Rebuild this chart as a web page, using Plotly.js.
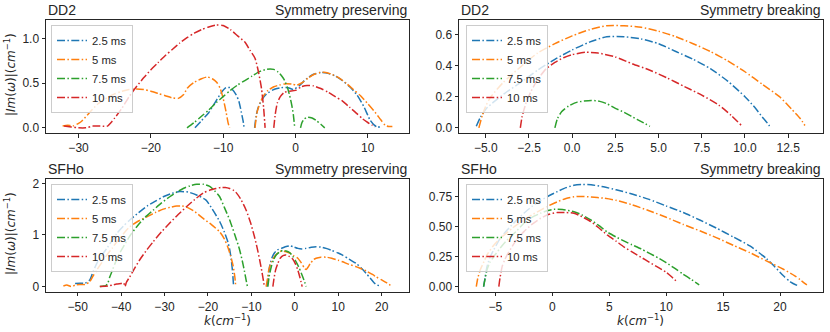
<!DOCTYPE html>
<html>
<head>
<meta charset="utf-8">
<script src="https://cdn.plot.ly/plotly-3.0.1.min.js"></script>
<style>
  body { margin: 0; background: #fff; }
  #chart { width: 830px; height: 332px; }
</style>
</head>
<body>
<div id="chart"></div>
<script>
// series labels
var seriesNames = ['2.5 ms', '5 ms', '7.5 ms', '10 ms'];
var seriesColors = ['#1f77b4', '#ff7f0e', '#2ca02c', '#d62728'];

// ---- DD2, symmetry preserving (null = gap between branches) ----
var dd2PresK25 = [-13.9, -13, -12, -11, -10.2, -9.6, -9, -8.2, -7.8, -7.5, -7.25, -7.1, null,
  -5.65, -5.4, -5.1, -4.6, -4, -3, -2, -1, -0.3, 0.5, 1.5, 2.5, 3.5, 4.5, 5.5, 6.5, 7.5, 8.5, 9.5, 10.3, 10.9, 11.3, 11.7];
var dd2PresV25 = [0, 0.08, 0.17, 0.3, 0.4, 0.45, 0.45, 0.37, 0.29, 0.18, 0.08, 0, null,
  0, 0.15, 0.24, 0.32, 0.38, 0.43, 0.45, 0.45, 0.43, 0.47, 0.55, 0.6, 0.62, 0.61, 0.58, 0.53, 0.46, 0.37, 0.23, 0.09, 0.03, 0.01, 0.01];
var dd2PresK5 = [-32.2, -31.5, -30.8, -30, -29.5, -28.5, -27.3, -26, -25, -24, -23, -22, -21, -20, -19, -18, -17, -16.2, -15.5, -14.9, -14, -13, -12.2, -11.5, -10.9, -10.4, -10, -9.6, -9.3, -9.1, null,
  -5.6, -5.3, -4.9, -4.4, -3.8, -3, -2.2, -1.3, -0.5, 0.2, 1, 1.8, 2.6, 3.4, 4.2, 5, 6, 7, 8, 9, 10, 11, 11.8, 12.4, 12.9, 13.4];
var dd2PresV5 = [0.02, 0.03, 0.02, 0.05, 0.08, 0.17, 0.27, 0.34, 0.38, 0.41, 0.43, 0.435, 0.43, 0.41, 0.385, 0.36, 0.335, 0.33, 0.37, 0.45, 0.51, 0.55, 0.57, 0.55, 0.51, 0.44, 0.33, 0.18, 0.05, 0, null,
  0, 0.18, 0.28, 0.36, 0.42, 0.46, 0.48, 0.495, 0.49, 0.48, 0.51, 0.56, 0.6, 0.62, 0.62, 0.6, 0.56, 0.5, 0.43, 0.36, 0.27, 0.175, 0.09, 0.03, 0.015, 0.015];
var dd2PresK75 = [-15, -14, -13, -12, -11, -10, -9, -8, -7, -6, -5, -4, -3.5, -3, -2.4, -1.9, -1.5, -1.1, -0.8, -0.5, -0.3, -0.1, null,
  0.7, 0.9, 1.2, 1.7, 2.3, 2.9, 3.5, 4.05];
var dd2PresV75 = [0, 0.06, 0.13, 0.2, 0.28, 0.35, 0.42, 0.48, 0.53, 0.58, 0.63, 0.655, 0.66, 0.655, 0.625, 0.58, 0.53, 0.45, 0.36, 0.25, 0.15, 0, null,
  0, 0.06, 0.1, 0.12, 0.11, 0.08, 0.04, 0];
var dd2PresK10 = [-32, -31, -30, -29, -28, -27, -26, -25.5, -25, -24, -23, -22, -21, -20, -19, -18, -17, -16, -15, -14, -13, -12, -11, -10, -9, -8, -7, -6.3, -5.6, -5.1, -4.7, -4.4, -4.2, null,
  -3, -2.8, -2.5, -2.1, -1.5, -0.8, 0, 0.8, 1.6, 2.5, 3.5, 4.5, 5.5, 6.5, 7.5, 8.5, 9.3, 10, 10.6, 11];
var dd2PresV10 = [0.02, 0.01, 0, 0, 0.02, 0.02, 0.02, 0.06, 0.11, 0.22, 0.35, 0.46, 0.56, 0.65, 0.73, 0.81, 0.88, 0.95, 1.01, 1.06, 1.1, 1.13, 1.15, 1.145, 1.1, 1.03, 0.96, 0.87, 0.78, 0.62, 0.44, 0.22, 0, null,
  0, 0.15, 0.28, 0.35, 0.4, 0.41, 0.42, 0.46, 0.475, 0.47, 0.44, 0.4, 0.35, 0.3, 0.23, 0.16, 0.1, 0.06, 0.03, 0.01];

// ---- DD2, symmetry breaking ----
var dd2BrkK25 = [-5.55, -5.3, -5, -4.5, -3.8, -3, -2, -1, 0, 1, 2, 3, 4, 5, 6, 7, 8, 9, 10, 10.5, 11, 11.3, 11.5];
var dd2BrkV25 = [0.01, 0.07, 0.12, 0.17, 0.23, 0.29, 0.37, 0.44, 0.5, 0.55, 0.585, 0.585, 0.57, 0.54, 0.49, 0.44, 0.38, 0.3, 0.2, 0.14, 0.07, 0.03, 0];
var dd2BrkK5 = [-5.4, -5.2, -5, -4.7, -4, -3, -2, -1, 0, 1, 2, 3, 4, 5, 6, 7, 8, 9, 10, 11, 12, 12.7, 13.2, 13.47];
var dd2BrkV5 = [0, 0.08, 0.14, 0.2, 0.29, 0.39, 0.48, 0.54, 0.59, 0.63, 0.655, 0.655, 0.645, 0.62, 0.585, 0.54, 0.49, 0.43, 0.36, 0.28, 0.2, 0.12, 0.06, 0.015];
var dd2BrkK75 = [-1, -0.85, -0.6, -0.2, 0.3, 1.1, 1.6, 2, 2.5, 3, 3.5, 4, 4.5];
var dd2BrkV75 = [0, 0.06, 0.105, 0.14, 0.165, 0.176, 0.17, 0.155, 0.125, 0.1, 0.07, 0.04, 0.01];
var dd2BrkK10 = [-3, -2.9, -2.7, -2.4, -2, -1.5, -1, -0.5, 0, 0.8, 1.5, 2.5, 3.5, 4.5, 5.5, 6.5, 7.5, 8.5, 9.2, 9.8];
var dd2BrkV10 = [0, 0.07, 0.15, 0.23, 0.31, 0.38, 0.42, 0.45, 0.47, 0.485, 0.48, 0.455, 0.41, 0.37, 0.32, 0.265, 0.21, 0.145, 0.08, 0.015];

// ---- SFHo, symmetry preserving ----
var sfhPresK25 = [-50.6, -49.5, -48.3, -47.2, -46.5, -45.6, -44.5, -43.3, -42, -41, -39.5, -38, -36, -34, -32, -30.3, -28.5, -26.5, -24.5, -22.5, -20.5, -19, -17.3, -16.2, -15.4, -15, -14.6, -14.3, -14.1, null,
  -6.4, -6.1, -5.8, -5.3, -4.7, -4, -3.1, -2.2, -1.2, -0.3, 0.7, 1.6, 2.6, 3.8, 4.9, 6, 7.2, 8.5, 10, 11, 12.5, 14.1, 15.3, 16.4, 17.4, 18.3, 19, 19.5, 19.9];
var sfhPresV25 = [0.06, 0.065, 0.065, 0.13, 0.28, 0.45, 0.6, 0.74, 0.9, 1.03, 1.17, 1.29, 1.43, 1.56, 1.66, 1.74, 1.8, 1.84, 1.83, 1.77, 1.68, 1.5, 1.26, 1.05, 0.86, 0.72, 0.5, 0.25, 0, null,
  0, 0.2, 0.39, 0.55, 0.65, 0.71, 0.74, 0.77, 0.79, 0.77, 0.74, 0.73, 0.74, 0.76, 0.77, 0.765, 0.74, 0.7, 0.65, 0.61, 0.53, 0.45, 0.36, 0.26, 0.16, 0.07, 0.03, 0.02, 0.02];
var sfhPresK5 = [-53.3, -52.5, -51.5, -50.5, -49.5, -48.3, -47.2, -46.5, -45.6, -44.5, -43.3, -42, -41, -39.5, -38, -36, -34.1, -32, -30.3, -28.5, -27.2, -26, -24.9, -23, -21.1, -19.2, -17.3, -16.2, -15.5, -14.8, -14.2, -13.8, -13.6, null,
  -6.6, -6.3, -6, -5.4, -4.7, -3.9, -3.1, -2.2, -1.2, -0.3, 0.7, 1.5, 2.2, 2.6, 3, 3.6, 4.3, 4.9, 6, 7.2, 8.5, 10, 11, 12.5, 14, 14.9, 16.5, 18, 18.7, 20, 21.2, 22.3];
var sfhPresV5 = [0.01, 0.03, 0, 0.03, 0.04, 0.04, 0.1, 0.2, 0.32, 0.46, 0.61, 0.75, 0.87, 1.02, 1.16, 1.27, 1.35, 1.44, 1.5, 1.54, 1.56, 1.56, 1.54, 1.45, 1.32, 1.2, 1.06, 0.92, 0.78, 0.6, 0.4, 0.18, 0, null,
  0, 0.15, 0.32, 0.48, 0.58, 0.65, 0.69, 0.68, 0.65, 0.6, 0.55, 0.46, 0.36, 0.33, 0.37, 0.45, 0.52, 0.55, 0.57, 0.57, 0.55, 0.51, 0.48, 0.43, 0.39, 0.36, 0.3, 0.23, 0.19, 0.13, 0.07, 0.01];
var sfhPresK75 = [-44.9, -44, -43.5, -43, -42.6, -42, -41.4, -40.5, -39.5, -38, -36.4, -34.5, -32.6, -30.7, -28.8, -27.2, -25.7, -24.2, -22.6, -21, -19.6, -18.5, -17.3, -16.2, -15, -13.8, -12.7, -12.1, -11.6, -11.2, -10.9, null,
  -6.2, -5.9, -5.4, -4.9, -4.3, -3.5, -2.76, -2, -1.2, -0.5, 0.3, 0.9, 1.5, 2.1, 2.6];
var sfhPresV75 = [0, 0.01, 0.02, 0.08, 0.19, 0.32, 0.45, 0.62, 0.77, 0.98, 1.16, 1.34, 1.48, 1.62, 1.74, 1.83, 1.9, 1.95, 1.98, 1.98, 1.94, 1.86, 1.74, 1.53, 1.29, 1, 0.71, 0.5, 0.3, 0.12, 0, null,
  0, 0.2, 0.39, 0.52, 0.61, 0.67, 0.7, 0.69, 0.66, 0.59, 0.48, 0.38, 0.26, 0.13, 0];
var sfhPresK10 = [-44.9, -43, -42, -41, -40, -39.4, -39.1, -38.8, -38, -37, -35.7, -34, -32.6, -30.7, -28.8, -26.8, -24.9, -23, -21.1, -19.5, -18.1, -17, -16, -15, -14, -13.5, -12.5, -11.2, -10.2, -9.3, -8.7, -8.1, -7.6, -7.2, -7, null,
  -5.05, -4.8, -4.43, -3.9, -3.36, -2.7, -2, -1.2, -0.45, 0.2, 0.7, 1.2, 1.7];
var sfhPresV10 = [0, 0.01, 0.03, 0.05, 0.06, 0.07, 0, 0.08, 0.19, 0.34, 0.52, 0.72, 0.87, 1.06, 1.23, 1.4, 1.55, 1.69, 1.81, 1.87, 1.9, 1.92, 1.92, 1.9, 1.86, 1.82, 1.7, 1.48, 1.24, 0.97, 0.76, 0.52, 0.3, 0.1, 0, null,
  0, 0.15, 0.32, 0.45, 0.55, 0.6, 0.61, 0.58, 0.53, 0.43, 0.32, 0.17, 0];

// ---- SFHo, symmetry breaking ----
var sfhBrkK25 = [-6.04, -5.9, -5.74, -5.5, -5.15, -4.6, -3.97, -3.2, -2.5, -1.8, -1.03, -0.3, 0.44, 1.2, 1.9, 2.6, 3.4, 4.5, 5.6, 7, 8.5, 10, 11.5, 13, 14.4, 15.9, 17.35, 18.8, 19.5, 20.3, 20.9, 21.5];
var sfhBrkV25 = [0, 0.08, 0.167, 0.24, 0.307, 0.4, 0.474, 0.55, 0.614, 0.67, 0.72, 0.76, 0.795, 0.828, 0.848, 0.855, 0.852, 0.835, 0.81, 0.775, 0.73, 0.675, 0.62, 0.555, 0.49, 0.415, 0.34, 0.235, 0.17, 0.09, 0.04, 0.01];
var sfhBrkK5 = [-6.68, -6.55, -6.33, -6, -5.74, -5.2, -4.56, -3.5, -2.5, -1.8, -1.03, -0.3, 0.44, 1.2, 1.9, 2.6, 3.4, 4.5, 5.6, 7, 8.5, 10, 11.5, 13, 14.4, 15.9, 17.35, 18.8, 20.3, 21.3, 22.36];
var sfhBrkV5 = [0, 0.07, 0.14, 0.21, 0.265, 0.34, 0.405, 0.49, 0.558, 0.6, 0.64, 0.678, 0.71, 0.738, 0.752, 0.755, 0.75, 0.74, 0.722, 0.685, 0.635, 0.58, 0.52, 0.465, 0.41, 0.345, 0.284, 0.215, 0.145, 0.09, 0.014];
var sfhBrkK75 = [-6.04, -5.9, -5.74, -5.5, -5.15, -4.6, -3.97, -3.2, -2.5, -1.8, -1.03, -0.4, 0.15, 0.9, 1.9, 2.6, 3.38, 4.1, 4.85, 5.6, 6.32, 7, 7.8, 8.5, 9.3, 10, 10.8, 11.47, 12.2, 12.9];
var sfhBrkV75 = [0, 0.07, 0.14, 0.2, 0.25, 0.32, 0.39, 0.46, 0.53, 0.58, 0.614, 0.637, 0.647, 0.645, 0.627, 0.6, 0.558, 0.51, 0.455, 0.415, 0.38, 0.35, 0.315, 0.28, 0.24, 0.2, 0.15, 0.105, 0.06, 0.015];
var sfhBrkK10 = [-4.7, -4.6, -4.41, -4.2, -3.97, -3.3, -2.5, -1.8, -1.03, -0.3, 0.44, 1.2, 1.9, 2.6, 3.38, 4.1, 4.85, 5.6, 6.32, 7, 7.8, 8.5, 9.3, 10, 10.5, 11];
var sfhBrkV10 = [0, 0.07, 0.167, 0.22, 0.265, 0.37, 0.46, 0.52, 0.572, 0.605, 0.62, 0.62, 0.614, 0.585, 0.544, 0.49, 0.43, 0.38, 0.33, 0.29, 0.245, 0.205, 0.16, 0.12, 0.08, 0.035];

var panels = [
  {k: [dd2PresK25, dd2PresK5, dd2PresK75, dd2PresK10], v: [dd2PresV25, dd2PresV5, dd2PresV75, dd2PresV10]},
  {k: [dd2BrkK25, dd2BrkK5, dd2BrkK75, dd2BrkK10], v: [dd2BrkV25, dd2BrkV5, dd2BrkV75, dd2BrkV10]},
  {k: [sfhPresK25, sfhPresK5, sfhPresK75, sfhPresK10], v: [sfhPresV25, sfhPresV5, sfhPresV75, sfhPresV10]},
  {k: [sfhBrkK25, sfhBrkK5, sfhBrkK75, sfhBrkK10], v: [sfhBrkV25, sfhBrkV5, sfhBrkV75, sfhBrkV10]}
];

var W = 830, H = 332;
var ink = '#262626';
var sans = 'Liberation Sans, Arial, sans-serif';
var legendIds = ['legend', 'legend2', 'legend3', 'legend4'];

var data = [];
for (var p = 0; p < panels.length; p++) {
  for (var s = 0; s < 4; s++) {
    data.push({
      x: panels[p].k[s],
      y: panels[p].v[s],
      type: 'scatter',
      mode: 'lines',
      name: seriesNames[s],
      xaxis: p == 0 ? 'x' : 'x' + (p + 1),
      yaxis: p == 0 ? 'y' : 'y' + (p + 1),
      legend: legendIds[p],
      connectgaps: false,
      hoverinfo: 'none',
      line: {color: seriesColors[s], width: 1.5, dash: '8px,2.4px,1.5px,2.4px', shape: 'spline', smoothing: 0.6}
    });
  }
}

function axis(dom, range, dtick, fmt, anchor) {
  return {
    domain: dom, range: range, dtick: dtick, tick0: 0, tickformat: fmt, anchor: anchor,
    showline: true, mirror: true, linecolor: ink, linewidth: 1,
    ticks: 'outside', ticklen: 3.5, tickwidth: 1, tickcolor: ink,
    showgrid: false, zeroline: false,
    tickfont: {family: sans, size: 12, color: ink}
  };
}

var leftX = [46 / W, 409 / W], rightX = [459 / W, 822.7 / W];
var topY = [1 - 133 / H, 1 - 20 / H], botY = [1 - 291.7 / H, 1 - 179.3 / H];

function legendBox(px, py) {
  return {
    x: px / W, y: 1 - py / H, xanchor: 'left', yanchor: 'top',
    bgcolor: 'rgba(255,255,255,0.8)', bordercolor: '#cccccc', borderwidth: 1,
    font: {family: sans, size: 11.3, color: ink}
  };
}

var anns = [];
function label(text, px, py, anchor, size, angle, family) {
  anns.push({
    text: text, xref: 'paper', yref: 'paper', x: px / W, y: 1 - py / H,
    xanchor: anchor, yanchor: 'middle', showarrow: false, textangle: angle || 0,
    font: {family: family || sans, size: size, color: ink}
  });
}
label('DD2', 46, 10, 'left', 14);
label('Symmetry preserving', 409, 10, 'right', 14);
label('DD2', 459, 10, 'left', 14);
label('Symmetry breaking', 822.7, 10, 'right', 14);
label('SFHo', 46, 169.3, 'left', 14);
label('Symmetry preserving', 409, 169.3, 'right', 14);
label('SFHo', 459, 169.3, 'left', 14);
label('Symmetry breaking', 822.7, 169.3, 'right', 14);
var ylab = '|<i>Im</i>(<i>ω</i>)|(<i>cm</i><sup>−1</sup>)';
var xlab = '<i>k</i>(<i>cm</i><sup>−1</sup>)';
label(ylab, 10, 75, 'center', 12, -90, 'DejaVu Sans');
label(ylab, 10, 234, 'center', 12, -90, 'DejaVu Sans');
label(xlab, 227.5, 320, 'center', 12, 0, 'DejaVu Sans');
label(xlab, 640.9, 320, 'center', 12, 0, 'DejaVu Sans');

var layout = {
  width: W, height: H,
  margin: {l: 0, r: 0, t: 0, b: 0},
  paper_bgcolor: '#ffffff', plot_bgcolor: '#ffffff',
  font: {family: sans, color: ink},
  showlegend: true,
  xaxis: axis(leftX, [-34.5, 15.7], 10, 'd', 'y'),
  yaxis: axis(topY, [-0.0575, 1.2075], 0.5, '.1f', 'x'),
  xaxis2: axis(rightX, [-6.55, 14.5], 2.5, '.1f', 'y2'),
  yaxis2: axis(topY, [-0.033, 0.692], 0.2, '.1f', 'x2'),
  xaxis3: axis(leftX, [-57.3, 26.3], 10, 'd', 'y3'),
  yaxis3: axis(botY, [-0.099, 2.078], 1, 'd', 'x3'),
  xaxis4: axis(rightX, [-8.2, 23.75], 5, 'd', 'y4'),
  yaxis4: axis(botY, [-0.043, 0.898], 0.25, '.2f', 'x4'),
  legend: legendBox(51, 25),
  legend2: legendBox(466, 25),
  legend3: legendBox(51, 184),
  legend4: legendBox(466, 184),
  annotations: anns
};

Plotly.newPlot('chart', data, layout, {displayModeBar: false, staticPlot: true});
</script>
</body>
</html>
